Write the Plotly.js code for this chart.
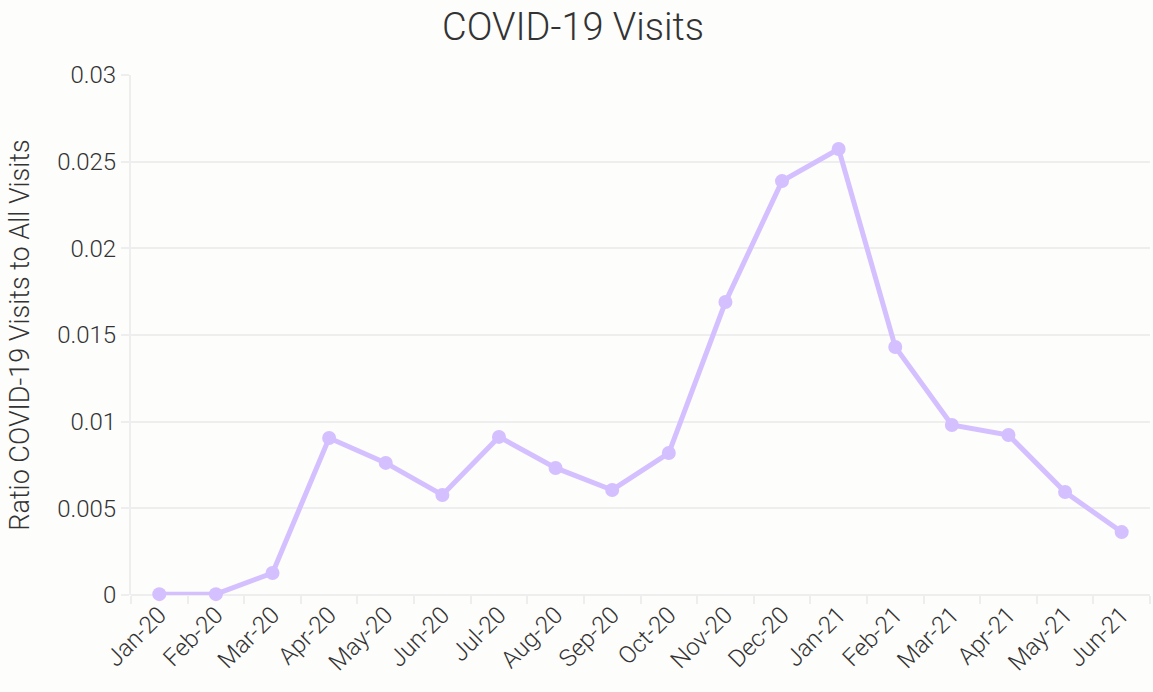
<!DOCTYPE html>
<html>
<head>
<meta charset="utf-8">
<script src="https://cdn.plot.ly/plotly-3.0.1.min.js"></script>
<style>html,body{margin:0;padding:0;background:#fdfdfc;}#chart{width:1153px;height:692px;}</style>
</head>
<body>
<div id="chart"></div>
<script>
const months = ["Jan-20","Feb-20","Mar-20","Apr-20","May-20","Jun-20","Jul-20","Aug-20","Sep-20","Oct-20","Nov-20","Dec-20","Jan-21","Feb-21","Mar-21","Apr-21","May-21","Jun-21"];
const ratio = [0.00005,0.00005,0.00127,0.00906,0.00762,0.00577,0.00912,0.00733,0.00606,0.00819,0.0169,0.02388,0.02573,0.01431,0.00981,0.00923,0.00594,0.00363];
const yTicks = [0,0.005,0.01,0.015,0.02,0.025,0.03];
const yTickText = ["0","0.005","0.01","0.015","0.02","0.025","0.03"];

const fontFam = "Roboto, sans-serif";
Plotly.newPlot("chart", [{
  x: months, y: ratio, type: "scatter", mode: "lines+markers",
  line: {color: "#d4bfff", width: 5},
  marker: {color: "#d4bfff", size: 14},
  cliponaxis: false
}], {
  width: 1153, height: 692,
  paper_bgcolor: "#fdfdfc", plot_bgcolor: "#fdfdfc",
  margin: {l: 131, r: 3, t: 75, b: 97},
  font: {family: fontFam, color: "#333333", weight: 300},
  title: {text: "COVID-19 Visits", font: {size: 38, color: "#333333", family: fontFam, weight: 300},
          x: 0.497, xref: "container", xanchor: "center", y: 0.962, yref: "container", yanchor: "middle"},
  showlegend: false,
  xaxis: {
    type: "category", tickson: "boundaries", ticks: "outside", ticklen: 8, tickcolor: "#eeeeee", tickwidth: 2,
    tickangle: -45, tickfont: {size: 24, color: "#333333", weight: 300}, showgrid: false,
    showline: false, zeroline: false, range: [-0.5, 17.5]
  },
  yaxis: {
    title: {text: "Ratio COVID-19 Visits to All Visits", font: {size: 27, color: "#333333", weight: 300}, standoff: 20},
    range: [0, 0.03], tickvals: yTicks, ticktext: yTickText, tickfont: {size: 24, color: "#333333", weight: 300},
    showgrid: true, gridcolor: "#eeeeee", gridwidth: 2, zeroline: true, zerolinecolor: "#eeeeee", zerolinewidth: 2,
    ticks: "outside", ticklen: 8, tickcolor: "#eeeeee", tickwidth: 2,
    showline: true, linecolor: "#eeeeee", linewidth: 2
  }
}, {displayModeBar: false});
</script>
</body>
</html>
